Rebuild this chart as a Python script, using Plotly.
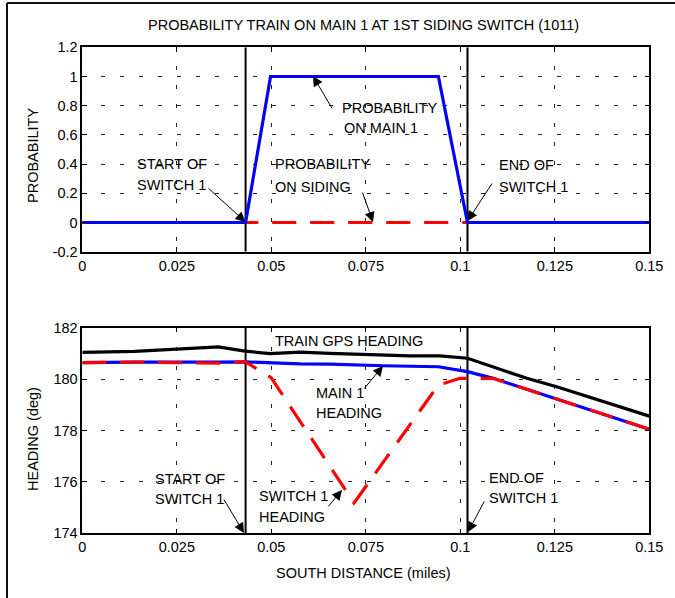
import plotly.graph_objects as go

W, H = 675, 598

# ---------------- data ----------------
x_ticks = [0, 0.025, 0.05, 0.075, 0.1, 0.125, 0.15]
x_tick_labels = ["0", "0.025", "0.05", "0.075", "0.1", "0.125", "0.15"]
prob_ticks = [-0.2, 0, 0.2, 0.4, 0.6, 0.8, 1, 1.2]
prob_tick_labels = ["-0.2", "0", "0.2", "0.4", "0.6", "0.8", "1", "1.2"]
head_ticks = [174, 176, 178, 180, 182]
head_tick_labels = ["174", "176", "178", "180", "182"]

switch_start = 0.0432
switch_end = 0.1019

prob_x = [0, 0.0432, 0.0498, 0.0942, 0.1019, 0.15]
prob_main = [0, 0, 1, 1, 0, 0]
prob_siding = [0, 0, 0, 0, 0, 0]

gps_x = [0, 0.0139, 0.036, 0.043, 0.0497, 0.0576, 0.0655, 0.0867, 0.0946,
         0.1019, 0.1176, 0.1255, 0.15]
gps_heading = [181.04, 181.08, 181.25, 181.09, 180.99, 181.05, 181.0, 180.9,
               180.9, 180.81, 180.03, 179.70, 178.56]

main_x = [0, 0.0139, 0.036, 0.0432, 0.0576, 0.0655, 0.0796, 0.0942, 0.1019,
          0.1087, 0.15]
main_heading = [180.64, 180.66, 180.66, 180.67, 180.59, 180.58, 180.52,
                180.48, 180.29, 180.03, 178.05]

sw_x = [0, 0.0139, 0.036, 0.0432, 0.0500, 0.0719, 0.0942, 0.0999, 0.1087, 0.15]
sw_heading = [180.64, 180.66, 180.62, 180.67, 180.05, 175.18, 179.77, 180.03,
              180.03, 178.05]

title_text = "PROBABILITY TRAIN ON MAIN 1 AT 1ST SIDING SWITCH (1011)"

# ---------------- layout helpers ----------------
FONT = "Liberation Sans, Arial, sans-serif"
FS = 14.5


def px(x):
    return x / W


def py(y):
    return 1 - y / H


X0, X1 = 82.3, 649.3
T0, T1 = 47.3, 251.7     # top plot (pixel top/bottom)
B0, B1 = 327.7, 533.3    # bottom plot

fig = go.Figure()

# vertical switch lines
for xa, ya, yr in [("x", "y", [-0.2, 1.2]), ("x2", "y2", [174, 182])]:
    for xv in (switch_start, switch_end):
        fig.add_trace(go.Scatter(x=[xv, xv], y=yr, mode="lines", xaxis=xa, yaxis=ya,
                                 line=dict(color="black", width=2), showlegend=False,
                                 hoverinfo="skip", cliponaxis=False))

# top plot
fig.add_trace(go.Scatter(x=prob_x, y=prob_siding, mode="lines", xaxis="x", yaxis="y",
                         line=dict(color="#ff0000", width=3.2, dash="24px,14px"),
                         showlegend=False))
fig.add_trace(go.Scatter(x=prob_x, y=prob_main, mode="lines", xaxis="x", yaxis="y",
                         line=dict(color="#0000ff", width=3.2), showlegend=False))

# bottom plot
fig.add_trace(go.Scatter(x=gps_x, y=gps_heading, mode="lines", xaxis="x2", yaxis="y2",
                         line=dict(color="black", width=3.2), showlegend=False))
fig.add_trace(go.Scatter(x=main_x, y=main_heading, mode="lines", xaxis="x2", yaxis="y2",
                         line=dict(color="#0000ff", width=3.2), showlegend=False))
fig.add_trace(go.Scatter(x=sw_x, y=sw_heading, mode="lines", xaxis="x2", yaxis="y2",
                         line=dict(color="#ff0000", width=3.2, dash="24px,14px"),
                         showlegend=False))

axis_common = dict(
    showline=True, linecolor="black", linewidth=1.5, mirror="ticks",
    ticks="inside", ticklen=5, tickcolor="black", tickwidth=1,
    showgrid=True, gridcolor="#222222", gridwidth=1, griddash="4px,15px",
    zeroline=False, automargin=False,
    tickfont=dict(family=FONT, size=FS, color="black"),
)

fig.update_layout(
    width=W, height=H, autosize=False,
    margin=dict(l=0, r=0, t=0, b=0, pad=0),
    paper_bgcolor="white", plot_bgcolor="white",
    font=dict(family=FONT, size=FS, color="black"),
    xaxis=dict(axis_common, domain=[px(X0), px(X1)], anchor="y", range=[0, 0.15],
               tickvals=x_ticks, ticktext=x_tick_labels),
    yaxis=dict(axis_common, domain=[py(T1), py(T0)], anchor="x", range=[-0.2, 1.2],
               tickvals=prob_ticks, ticktext=prob_tick_labels),
    xaxis2=dict(axis_common, domain=[px(X0), px(X1)], anchor="y2", range=[0, 0.15],
                tickvals=x_ticks, ticktext=x_tick_labels),
    yaxis2=dict(axis_common, domain=[py(B1), py(B0)], anchor="x2", range=[174, 182],
                tickvals=head_ticks, ticktext=head_tick_labels),
)

ann = []


def text(t, x, y, xanchor="left", angle=0):
    ann.append(dict(text=t, x=px(x), y=py(y), xref="paper", yref="paper",
                    xanchor=xanchor, yanchor="middle", showarrow=False,
                    textangle=angle, font=dict(family=FONT, size=FS, color="black")))


def arrow(tx, ty, hx, hy):
    ann.append(dict(text="", x=px(hx), y=py(hy), xref="paper", yref="paper",
                    ax=tx - hx, ay=ty - hy, axref="pixel", ayref="pixel",
                    showarrow=True, arrowhead=2, arrowsize=2, arrowwidth=1,
                    arrowcolor="black", font=dict(size=1)))


# titles
text(title_text, 363, 25, "center")
text("PROBABILITY", 33, 156, "center", -90)
text("HEADING (deg)", 33, 439, "center", -90)
text("SOUTH DISTANCE (miles)", 363, 573, "center")

# top annotations
text("START OF", 135, 163.5)
text("SWITCH 1", 135, 185)
arrow(207, 187, 245.5, 222)
text("PROBABILITY", 273, 164)
text("ON SIDING", 273, 187)
arrow(362, 191, 373, 222)
text("PROBABILITY", 340, 108)
text("ON MAIN 1", 342, 128)
arrow(333, 110, 313, 76)
text("END OF", 497, 165)
text("SWITCH 1", 497, 187)
arrow(493, 182, 467.5, 221)

# bottom annotations
text("TRAIN GPS HEADING", 273, 341)
text("MAIN 1", 314, 393)
text("HEADING", 314, 413)
arrow(363, 390, 383, 366)
text("START OF", 153, 479)
text("SWITCH 1", 153, 499)
arrow(223, 498, 244, 533)
text("SWITCH 1", 257, 496)
text("HEADING", 257, 517)
arrow(327, 508, 342, 490)
text("END OF", 487, 478)
text("SWITCH 1", 487, 498)
arrow(485, 500, 468, 532)

fig.update_layout(annotations=ann)

# outer frame (top and left edges visible)
fig.update_layout(shapes=[
    dict(type="line", xref="paper", yref="paper", x0=px(7), x1=1.0, y0=py(3), y1=py(3),
         line=dict(color="#111", width=2)),
    dict(type="line", xref="paper", yref="paper", x0=px(7), x1=px(7), y0=py(3), y1=0,
         line=dict(color="#111", width=2)),
])

fig.write_html(
    "out.html",
    config={"displayModeBar": False},
    post_script="document.body.style.margin='0';document.body.style.overflow='hidden';",
)
